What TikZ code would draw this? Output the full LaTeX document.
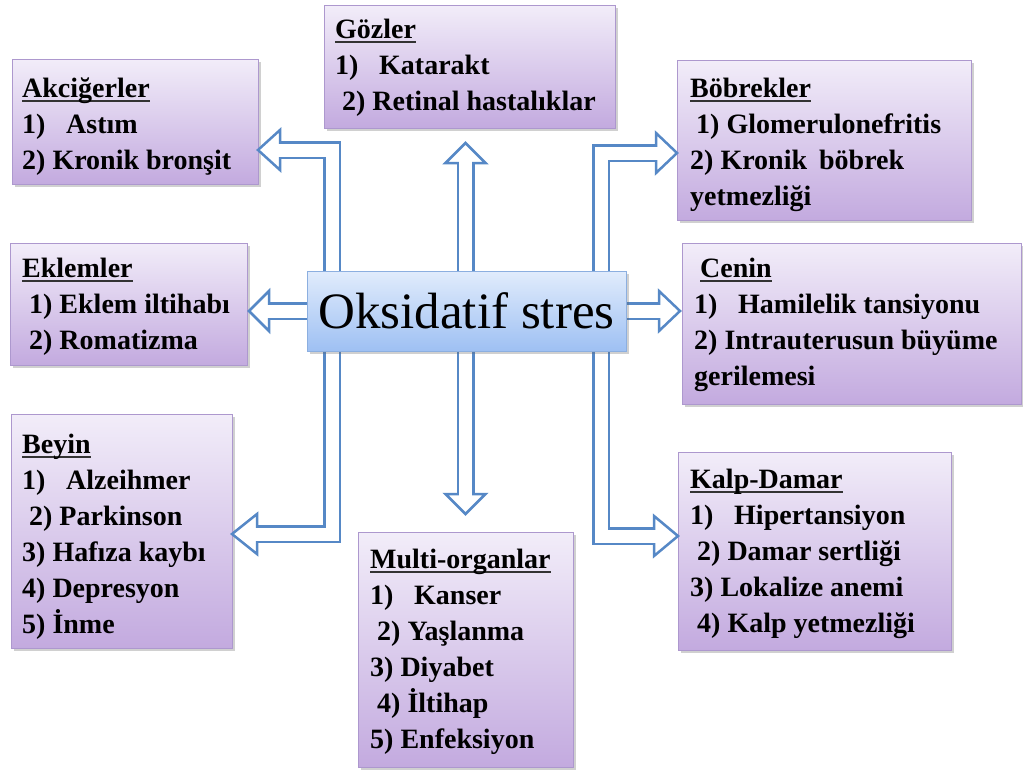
\documentclass[tikz,border=0pt]{standalone}
\usepackage{fontspec}
\setmainfont{Liberation Serif}
\usetikzlibrary{calc,shadows}

\definecolor{arrowblue}{HTML}{5688C6}
\definecolor{boxtop}{HTML}{F2EDF9}
\definecolor{boxbot}{HTML}{C3AADF}
\definecolor{boxedge}{HTML}{AD98CE}
\definecolor{coretop}{HTML}{E1ECFC}
\definecolor{corebot}{HTML}{9EC0F3}
\definecolor{coreedge}{HTML}{8CAFE0}

% underlined box heading (rule sits just under the baseline)
\newsavebox\orgheadbox
\newcommand\orghead[1]{\sbox\orgheadbox{#1}\rlap{\color{black!80}\rule[-4.5pt]{\wd\orgheadbox}{2pt}}\usebox\orgheadbox}
% numbered item with a tab after the number
\newcommand\orgitem[2]{\makebox[44pt][l]{#1}#2}
% small leading indent
\newcommand\orgind{\hspace*{7pt}}

% hollow block arrow: #1 shaft path up to the head base, #2 head base, #3 tip
\newcommand\hollowarrow[3]{%
  \draw[shaftout] #1 -- ($(#2)!3pt!(#3)$);
  \filldraw[headshape] (#2) -- ($(#2)!20pt!90:(#3)$) -- (#3) -- ($(#2)!20pt!-90:(#3)$) -- cycle;
  \draw[shaftin] #1 -- ($(#2)!3pt!(#3)$);
}

\tikzset{
  organ/.style={draw=boxedge, line width=0.8pt, top color=boxtop, bottom color=boxbot,
    drop shadow={shadow xshift=2.5pt, shadow yshift=-3pt, opacity=0.3, fill=black!60},
    anchor=north west, inner sep=0pt, outer sep=0pt},
  core/.style={draw=coreedge, line width=0.8pt, top color=coretop, bottom color=corebot,
    drop shadow={shadow xshift=2.5pt, shadow yshift=-3pt, opacity=0.3, fill=black!60},
    inner sep=0pt, outer sep=0pt, minimum width=319pt, minimum height=80pt,
    font=\fontsize{51}{60}\selectfont},
  list/.style={anchor=base west, inner sep=0pt, font=\fontsize{28}{36}\selectfont\bfseries},
  shaftout/.style={draw=arrowblue, line width=18pt, line join=miter},
  shaftin/.style={draw=white, line width=13pt, line join=miter},
  headshape/.style={fill=white, draw=arrowblue, line width=2.5pt, line join=miter},
}

\begin{document}
\begin{tikzpicture}[x=1pt, y=-1pt]
\useasboundingbox (0,0) rectangle (1023,771);
\fill[white] (0,0) rectangle (1023,771);

% organ boxes
\node[organ, minimum width=246pt, minimum height=125pt] (akc) at (12,59) {};
\node[organ, minimum width=291pt, minimum height=123pt] (goz) at (324,5) {};
\node[organ, minimum width=294pt, minimum height=160pt] (bob) at (677,60) {};
\node[organ, minimum width=237pt, minimum height=122pt] (ekl) at (10,243) {};
\node[organ, minimum width=339pt, minimum height=161pt] (cen) at (682,243) {};
\node[organ, minimum width=221pt, minimum height=234pt] (bey) at (11,414) {};
\node[organ, minimum width=215pt, minimum height=235pt] (mul) at (358,532) {};
\node[organ, minimum width=273pt, minimum height=198pt] (kal) at (678,452) {};

% centre box position (needed for arrow geometry)
\coordinate (ctrc) at (466.5,311);
\path (ctrc) node[minimum width=319pt, minimum height=80pt, inner sep=0pt, outer sep=0pt] (ctr) {};

% arrow geometry
\coordinate (t1) at ($(ctr.north |- goz.south)+(-1,15)$);
\coordinate (b1) at ($(t1)+(0,20)$);
\coordinate (s1) at ($(t1 |- ctr.north)+(0,20)$);

\coordinate (t2) at ($(ctr.south |- mul.north)+(-1,-18)$);
\coordinate (b2) at ($(t2)+(0,-20)$);
\coordinate (s2) at ($(t2 |- ctr.south)+(0,-20)$);

\coordinate (t3) at ($(akc.south east)+(0,-34)$);
\coordinate (b3) at ($(t3)+(22,0)$);
\coordinate (s3) at ($(ctr.north west)+(25,20)$);

\coordinate (t4) at ($(ekl.east |- ctr.west)+(2,0)$);
\coordinate (b4) at ($(t4)+(20,0)$);
\coordinate (s4) at ($(ctr.west)+(20,0)$);

\coordinate (t5) at ($(bey.south east)+(0,-114)$);
\coordinate (b5) at ($(t5)+(25,0)$);
\coordinate (s5) at ($(ctr.south west)+(25,-20)$);

\coordinate (t6) at ($(bob.north west)+(0,93)$);
\coordinate (b6) at ($(t6)+(-21,0)$);
\coordinate (s6) at ($(ctr.north east)+(-25,20)$);

\coordinate (t7) at ($(cen.west |- ctr.east)+(-2,0)$);
\coordinate (b7) at ($(t7)+(-21,0)$);
\coordinate (s7) at ($(ctr.east)+(-20,0)$);

\coordinate (t8) at ($(kal.north west)+(0,84)$);
\coordinate (b8) at ($(t8)+(-24,0)$);
\coordinate (s8) at ($(ctr.south east)+(-25,-20)$);

% hollow arrows from the centre box to each organ group
\hollowarrow{(s1)}{b1}{t1}
\hollowarrow{(s2)}{b2}{t2}
\hollowarrow{(s3) |- (b3)}{b3}{t3}
\hollowarrow{(s4)}{b4}{t4}
\hollowarrow{(s5) |- (b5)}{b5}{t5}
\hollowarrow{(s6) |- (b6)}{b6}{t6}
\hollowarrow{(s7)}{b7}{t7}
\hollowarrow{(s8) |- (b8)}{b8}{t8}

% centre box
\node[core] (core) at (ctrc) {Oksidatif stres};

% box contents
\node[list] (akct) at ($(akc.north west)+(10,38)$) {\begin{tabular}[t]{@{}l@{}}
\orghead{Akciğerler}\\
\orgitem{1)}{Astım}\\
2) Kronik bronşit
\end{tabular}};

\node[list] (gozt) at ($(goz.north west)+(11,33)$) {\begin{tabular}[t]{@{}l@{}}
\orghead{Gözler}\\
\orgitem{1)}{Katarakt}\\
\orgind 2) Retinal hastalıklar
\end{tabular}};

\node[list] (bobt) at ($(bob.north west)+(13,37)$) {\begin{tabular}[t]{@{}l@{}}
\orghead{Böbrekler}\\
\hspace*{6pt}1) Glomerulonefritis\\
2) Kronik\hspace{12pt}böbrek\\
yetmezliği
\end{tabular}};

\node[list] (eklt) at ($(ekl.north west)+(12,34)$) {\begin{tabular}[t]{@{}l@{}}
\orghead{Eklemler}\\
\orgind 1) Eklem iltihabı\\
\orgind 2) Romatizma
\end{tabular}};

\node[list] (cent) at ($(cen.north west)+(12,34)$) {\begin{tabular}[t]{@{}l@{}}
\hspace*{6pt}\orghead{Cenin}\\
\orgitem{1)}{Hamilelik tansiyonu}\\
2) Intrauterusun büyüme\\
gerilemesi
\end{tabular}};

\node[list] (beyt) at ($(bey.north west)+(11,39)$) {\begin{tabular}[t]{@{}l@{}}
\orghead{Beyin}\\
\orgitem{1)}{Alzeihmer}\\
\orgind 2) Parkinson\\
3) Hafıza kaybı\\
4) Depresyon\\
5) İnme
\end{tabular}};

\node[list] (mult) at ($(mul.north west)+(12,36)$) {\begin{tabular}[t]{@{}l@{}}
\orghead{Multi-organlar}\\
\orgitem{1)}{Kanser}\\
\orgind 2) Yaşlanma\\
3) Diyabet\\
\orgind 4) İltihap\\
5) Enfeksiyon
\end{tabular}};

\node[list] (kalt) at ($(kal.north west)+(12,36)$) {\begin{tabular}[t]{@{}l@{}}
\orghead{Kalp-Damar}\\
\orgitem{1)}{Hipertansiyon}\\
\orgind 2) Damar sertliği\\
3) Lokalize anemi\\
\orgind 4) Kalp yetmezliği
\end{tabular}};
\end{tikzpicture}
\end{document}
